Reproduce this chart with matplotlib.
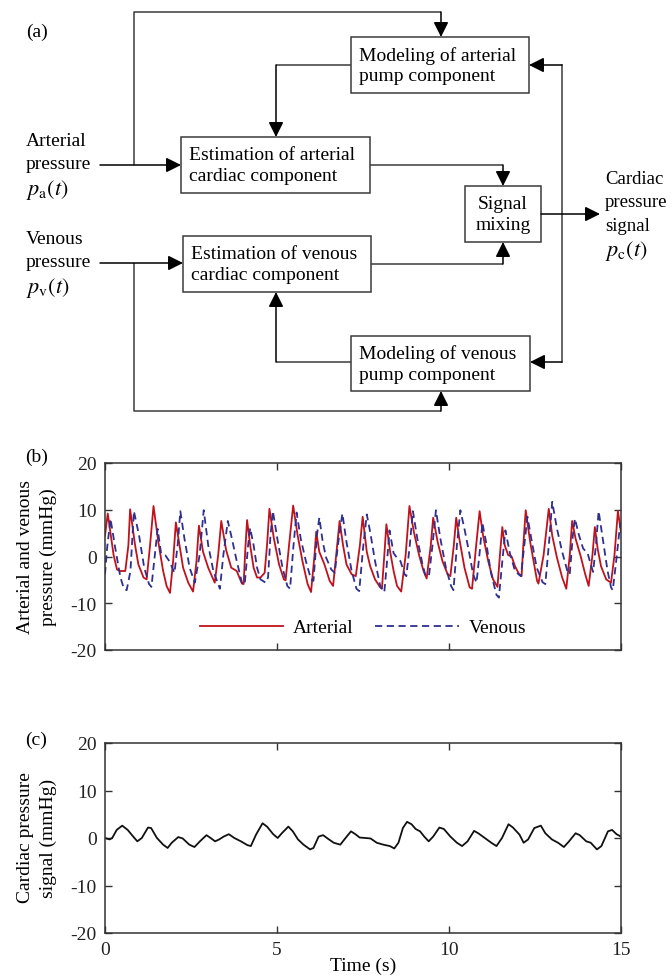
import matplotlib
matplotlib.use("Agg")
import matplotlib.pyplot as plt
from matplotlib.patches import Rectangle

plt.rcParams['font.family'] = ['Liberation Serif', 'DejaVu Serif']
plt.rcParams['mathtext.fontset'] = 'stix'
plt.rcParams['axes.unicode_minus'] = False
plt.rcParams['font.size'] = 14

#### data
art_t = [0.00, 0.08, 0.25, 0.35, 0.44, 0.59, 0.68, 0.73, 0.875, 0.97, 1.12, 1.21, 1.31, 1.41,
         1.55, 1.69, 1.79, 1.89, 1.98, 2.06, 2.18, 2.27, 2.42, 2.56, 2.66, 2.73, 2.85, 3.00,
         3.19, 3.29, 3.38, 3.52, 3.67, 3.83, 3.98, 4.03, 4.08, 4.13, 4.22, 4.32, 4.42, 4.52,
         4.64, 4.71, 4.78, 4.91, 5.06, 5.20, 5.25, 5.35, 5.47, 5.60, 5.74, 5.89, 5.99, 6.09,
         6.14, 6.23, 6.38, 6.53, 6.63, 6.72, 6.82, 6.92, 7.02, 7.17, 7.29, 7.41, 7.49, 7.61,
         7.71, 7.85, 8.00, 8.05, 8.12, 8.18, 8.29, 8.39, 8.49, 8.61, 8.74, 8.85, 8.98, 9.13,
         9.26, 9.35, 9.47, 9.54, 9.67, 9.81, 9.96, 10.04, 10.14, 10.21, 10.30, 10.45, 10.60,
         10.67, 10.79, 10.89, 10.99, 11.14, 11.28, 11.41, 11.48, 11.55, 11.62, 11.72, 11.82,
         11.92, 12.04, 12.11, 12.16, 12.23, 12.36, 12.46, 12.56, 12.60, 12.75, 12.90, 13.00,
         13.14, 13.29, 13.41, 13.51, 13.58, 13.68, 13.83, 13.96, 14.06, 14.17, 14.24, 14.32,
         14.42, 14.57, 14.71, 14.81, 14.91, 15.00]
art_p = [4.5, 9.2, 0.3, -2.8, -3.1, -3.1, 2.4, 10.1, 2.4, -1.7, -4.5, -4.9, 2.4, 10.8,
         3.1, -3.1, -6.3, -7.8, -1.0, 7.3, 1.7, -2.4, -5.6, -7.5, -1.0, 6.6, 1.0, -2.4,
         -5.6, 0.3, 7.6, 1.4, -2.4, -3.1, -5.8, -5.9, 1.7, 7.8, 2.4, -2.4, -4.5, -4.5,
         -3.5, 2.4, 10.2, 3.8, -1.7, -4.9, -5.1, 2.4, 10.9, 4.5, -1.0, -5.9, -7.6, 0.3,
         5.3, 1.0, -1.7, -5.2, -6.3, 0.3, 7.6, 2.4, -1.7, -3.8, -4.2, 2.4, 8.5, 1.0,
         -2.1, -4.9, -6.6, -6.9, 0.3, 6.9, 1.0, -3.1, -6.3, -7.5, 0.3, 10.8, 5.2, 0.3,
         -3.1, -4.7, 2.4, 8.3, 3.1, -1.0, -3.8, -4.2, 2.4, 8.3, 3.8, -2.4, -6.6,
         -6.9, 2.4, 9.7, 4.5, -1.0, -4.9, -6.5, 0.3, 6.3, 2.4, 0.3, 0.0,
         -2.1, -3.8, -4.2, 2.4, 9.9, 3.1, -1.0, -5.2, -5.8, 0.3, 10.2, 4.5,
         -0.3, -4.5, -6.9, 0.3, 7.6, 3.8, 0.0, -3.8, -6.3, 0.3, 6.3, 1.7,
         -2.1, -4.9, -5.6, 0.3, 9.7, 5.2]

ven_t = [0.00, 0.06, 0.16, 0.30, 0.45, 0.55, 0.63, 0.74, 0.81, 0.84, 0.99, 1.14, 1.28, 1.35,
         1.43, 1.53, 1.63, 1.75, 1.87, 2.02, 2.12, 2.19, 2.31, 2.46, 2.61, 2.75, 2.87, 3.00,
         3.15, 3.34, 3.44, 3.57, 3.69, 3.83, 3.98, 4.06, 4.16, 4.22, 4.32, 4.42, 4.52, 4.67,
         4.74, 4.81, 4.88, 5.01, 5.16, 5.30, 5.38, 5.48, 5.57, 5.69, 5.84, 5.99, 6.06, 6.16,
         6.23, 6.33, 6.43, 6.58, 6.68, 6.77, 6.90, 7.02, 7.17, 7.31, 7.39, 7.51, 7.61, 7.71,
         7.85, 8.00, 8.12, 8.20, 8.27, 8.39, 8.49, 8.59, 8.71, 8.76, 8.86, 8.95, 9.08, 9.23,
         9.32, 9.42, 9.52, 9.62, 9.75, 9.91, 10.06, 10.13, 10.23, 10.33, 10.45, 10.60, 10.70,
         10.80, 10.90, 10.97, 11.08, 11.22, 11.38, 11.45, 11.55, 11.64, 11.77, 11.92, 12.02,
         12.09, 12.19, 12.28, 12.40, 12.55, 12.72, 12.80, 12.92, 13.00, 13.14, 13.29, 13.44,
         13.51, 13.60, 13.66, 13.78, 13.90, 14.03, 14.12, 14.19, 14.27, 14.35, 14.47, 14.61,
         14.71, 14.76, 14.86, 14.96, 15.00]
ven_p = [-3.8, 1.7, 8.1, 1.7, -4.5, -6.9, -7.2, -3.1, 5.9, 9.7, 4.5, -2.4, -5.9, -6.5,
         -1.0, 5.9, 0.7, 0.3, -1.0, -3.5, 3.1, 9.7, 3.8, -2.4, -5.6, 0.3, 9.9, 2.4,
         -3.1, -6.9, 0.3, 7.6, 3.8, -1.0, -5.6, -6.0, 2.4, 6.1, 2.4, -2.4, -4.9, -5.6,
         -4.5, 4.5, 9.7, 3.8, -2.4, -6.3, -6.9, 2.4, 9.4, 3.8, -1.0, -4.9, -5.2, 4.5,
         8.3, 3.1, -0.3, -2.8, -3.5, 2.4, 9.2, 3.1, -3.1, -6.9, -7.4, 2.4, 9.0, 5.2,
         -1.0, -6.3, -7.6, -1.0, 5.6, 0.7, -0.3, -1.0, -3.8, -4.2, 2.4, 9.7, 3.8, -1.7,
         -4.2, -4.0, 2.4, 9.9, 3.8, -2.4, -6.3, -7.2, 2.4, 9.9, 5.9, 0.3, -3.8,
         -5.6, 1.5, 7.2, 3.0, -3.5, -8.2, -8.8, -1.0, 5.6, 0.7, -3.1, -3.8,
         -4.2, 2.4, 8.5, 3.5, -2.4, -5.5, -5.9, 4.0, 11.7, 5.9, 1.0, -3.1,
         -3.8, 4.5, 8.1, 4.5, 1.7, 0.7, -1.7, -3.3, 2.4, 9.7, 3.8, -3.1,
         -6.6, -7.2, -1.0, 5.9, 7.3]

card_t = [0.00, 0.13, 0.21, 0.34, 0.50, 0.66, 0.82, 0.94, 1.07, 1.25, 1.34, 1.51, 1.69, 1.82,
          1.94, 2.13, 2.26, 2.45, 2.60, 2.76, 2.95, 3.07, 3.20, 3.32, 3.45, 3.60, 3.76, 3.95,
          4.14, 4.24, 4.39, 4.58, 4.71, 4.89, 5.02, 5.14, 5.33, 5.46, 5.61, 5.77, 5.96, 6.06,
          6.21, 6.34, 6.49, 6.65, 6.84, 6.96, 7.15, 7.28, 7.40, 7.57, 7.72, 7.90, 8.09, 8.28,
          8.41, 8.53, 8.66, 8.78, 8.91, 9.03, 9.16, 9.28, 9.41, 9.54, 9.72, 9.85, 10.04, 10.23,
          10.38, 10.54, 10.73, 10.85, 11.04, 11.23, 11.38, 11.54, 11.73, 11.86, 12.05, 12.17,
          12.30, 12.48, 12.67, 12.80, 12.99, 13.17, 13.34, 13.49, 13.68, 13.80, 13.99, 14.12,
          14.30, 14.43, 14.62, 14.74, 14.87, 15.00]
card_p = [0.0, -0.3, 0.0, 1.7, 2.6, 1.7, 0.3, -0.7, 0.0, 2.2, 2.1, 0.0, -1.4, -2.1,
          -1.0, 0.2, -0.1, -1.4, -1.9, -0.7, 0.6, 0.0, -0.7, -0.3, 0.3, 0.8, 0.0, -0.7,
          -1.5, -1.7, 0.7, 3.1, 2.4, 0.8, 0.0, 1.0, 2.4, 1.4, -0.3, -1.4, -2.4, -2.1,
          0.3, 0.6, -0.2, -1.0, -1.4, -0.3, 1.4, 0.8, 0.1, 0.0, -0.1, -1.0, -1.4, -1.7,
          -2.2, -1.0, 2.1, 3.4, 2.9, 1.9, 1.4, 0.3, -0.7, 0.3, 2.2, 1.9, 0.3, -1.0,
          -1.7, -0.7, 1.5, 1.0, 0.0, -1.0, -1.7, 0.0, 2.9, 2.2, 0.7, -1.0,
          -0.3, 2.1, 2.6, 1.0, -0.3, -1.0, -1.9, -0.7, 1.0, 0.6, -0.7, -1.0,
          -2.4, -1.7, 1.4, 1.7, 0.8, 0.3]

y_ticks = [-20, -10, 0, 10, 20]
x_ticks = [0, 5, 10, 15]

W, H = 672, 979
fig = plt.figure(figsize=(W / 100, H / 100), dpi=100)

####block diagram (a), drawn in pixel units
dg_h = 440
ax0 = fig.add_axes([0, 1 - dg_h / H, 1, dg_h / H])
ax0.set_xlim(0, W)
ax0.set_ylim(dg_h, 0)
ax0.axis('off')

lc = '#3a3a3a'


def box(x0, y0, x1, y1, txt, center=False):
    ax0.add_patch(Rectangle((x0, y0), x1 - x0, y1 - y0, fc='white', ec=lc, lw=1.1))
    if center:
        ax0.text((x0 + x1) / 2, (y0 + y1) / 2, txt, ha='center', va='center',
                 multialignment='center', linespacing=1.25)
    else:
        ax0.text(x0 + 8, (y0 + y1) / 2, txt, ha='left', va='center', linespacing=1.25)


def path(pts):
    xs = [p[0] for p in pts]
    ys = [p[1] for p in pts]
    ax0.plot(xs[:-1], ys[:-1], color=lc, lw=1.1, solid_capstyle='butt')
    ax0.annotate('', xy=pts[-1], xytext=pts[-2],
                 arrowprops=dict(arrowstyle='-|>,head_length=0.5,head_width=0.25',
                                 color='black', lw=1.1, shrinkA=0, shrinkB=0,
                                 mutation_scale=18))


box(351, 38, 529, 94, 'Modeling of arterial\npump component')
box(181, 138, 370, 194, 'Estimation of arterial\ncardiac component')
box(465, 187, 541, 243, 'Signal\nmixing', center=True)
box(183, 237, 371, 293, 'Estimation of venous\ncardiac component')
box(351, 337, 530, 392, 'Modeling of venous\npump component')

path([(100, 166), (181, 166)])
path([(134, 166), (134, 13), (441, 13), (441, 38)])
path([(351, 66), (276, 66), (276, 138)])
path([(370, 166), (503, 166), (503, 187)])
path([(100, 264), (183, 264)])
path([(134, 264), (134, 412), (441, 412), (441, 392)])
path([(351, 363), (276, 363), (276, 293)])
path([(371, 265), (503, 265), (503, 243)])
path([(541, 215), (600, 215)])
ax0.plot([562, 562], [66, 363], color=lc, lw=1.1)
path([(562, 66), (529, 66)])
path([(562, 363), (530, 363)])

ax0.text(26, 32, '(a)', ha='left', va='center')
for txt, yy in [('Arterial', 142), ('pressure', 165), ('Venous', 240), ('pressure', 263)]:
    ax0.text(26, yy, txt, ha='left', va='center')
for txt, yy in [(r'$p_{\mathrm{a}}(t)$', 190), (r'$p_{\mathrm{v}}(t)$', 288)]:
    ax0.text(26, yy, txt, ha='left', va='center', fontsize=16)
for txt, yy in [('Cardiac', 180), ('pressure', 203), ('signal', 227)]:
    ax0.text(605, yy, txt, ha='left', va='center', fontsize=13.5)
ax0.text(605, 251, r'$p_{\mathrm{c}}(t)$', ha='left', va='center', fontsize=16)

####time series panels
left, right = 105 / W, 621 / W


def style(ax):
    ax.set_xlim(0, 15)
    ax.set_ylim(-20, 20)
    ax.set_xticks(x_ticks)
    ax.set_yticks(y_ticks)
    ax.tick_params(direction='in', top=True, right=True, length=5, width=1,
                   colors='#333333', labelsize=14, labelcolor='#222222', pad=6)
    for s in ax.spines.values():
        s.set_color('#333333')
        s.set_linewidth(1.1)


ax1 = fig.add_axes([left, 1 - 651 / H, right - left, (651 - 464) / H])
ax1.plot(art_t, art_p, color='#c0121c', lw=1.3, solid_joinstyle='round', label='Arterial')
ax1.plot(ven_t, ven_p, color='#2e3090', lw=1.3, ls=(0, (4, 2.5)), dash_joinstyle='round',
         label='Venous')
style(ax1)
ax1.set_xticklabels([])
ax1.legend(loc='center', bbox_to_anchor=(0.5, 0.12), ncol=2, frameon=False,
           handlelength=4.3, handletextpad=0.5, columnspacing=1.1, fontsize=14)

ax2 = fig.add_axes([left, 1 - 934 / H, right - left, (934 - 744) / H])
ax2.plot(card_t, card_p, color='#111111', lw=1.3, solid_joinstyle='round')
style(ax2)

fig.text(363 / W, 1 - 966 / H, 'Time (s)', ha='center', va='center')
fig.text(25 / W, 1 - 457 / H, '(b)', ha='left', va='center')
fig.text(25 / W, 1 - 740 / H, '(c)', ha='left', va='center')
fig.text(37 / W, 1 - 557 / H, 'Arterial and venous\npressure (mmHg)', rotation=90,
         ha='center', va='center', multialignment='center', linespacing=1.4)
fig.text(37 / W, 1 - 838 / H, 'Cardiac pressure\nsignal (mmHg)', rotation=90,
         ha='center', va='center', multialignment='center', linespacing=1.4)

fig.savefig('out.png', dpi=100)
